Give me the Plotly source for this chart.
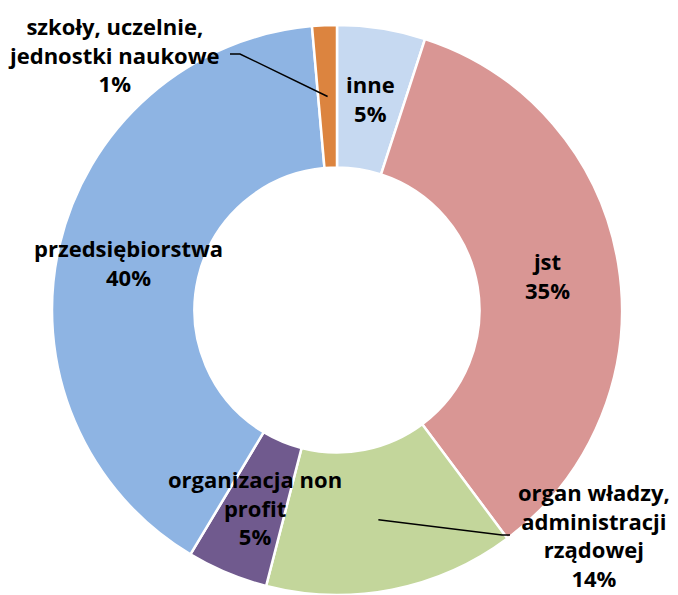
import numpy as np
import plotly.graph_objects as go

# data (clockwise from 12 o'clock)
categories = ["inne", "jst", "organ władzy,<br>administracji<br>rządowej",
              "organizacja non<br>profit", "przedsiębiorstwa",
              "szkoły, uczelnie,<br>jednostki naukowe"]
values = [5.0, 34.8, 14.2, 4.6, 40.0, 1.4]
pct_labels = ["5%", "35%", "14%", "5%", "40%", "1%"]
colors = ["#c6d9f1", "#d99694", "#c3d69b", "#705a8e", "#8eb4e3", "#dc843f"]

W, H = 678, 595
OFF = 8                              # page body margin in the browser
cx, cy, R = 337 - OFF, 310 - OFF, 285  # donut centre / radius in pixels

fig = go.Figure(go.Pie(
    labels=categories,
    values=values,
    hole=0.5,
    sort=False,
    direction="clockwise",
    rotation=0,
    marker=dict(colors=colors, line=dict(color="white", width=2.5)),
    textinfo="none",
    hoverinfo="label+percent",
    showlegend=False,
    domain=dict(x=[(cx - R) / W, (cx + R) / W], y=[(H - cy - R) / H, (H - cy + R) / H]),
))

# label anchors at slice mid-angle, in the middle of the ring
vals = np.array(values, dtype=float)
ends = np.cumsum(vals) / vals.sum() * 360
mids = np.radians(ends - vals / vals.sum() * 180)
rr = 0.75 * R
ax_px = cx + rr * np.sin(mids)
ay_px = cy - rr * np.cos(mids)

# labels moved outside with leader lines: label x,y, line end x, elbow x, line y
moved = {2: (594, 535, 510, 502, 535), 5: (114, 55, 230, 240, 54)}

def px(x, y):
    return x / W, 1 - y / H

annotations = []
shapes = []
for i, (lab, pct) in enumerate(zip(categories, pct_labels)):
    if i in moved:
        lx, ly, ex, bx, ey = [v - OFF for v in moved[i]]
        p0 = px(ax_px[i], ay_px[i])
        p1 = px(bx, ey)
        p2 = px(ex, ey)
        shapes.append(dict(type="path", xref="paper", yref="paper",
                           path=f"M {p0[0]},{p0[1]} L {p1[0]},{p1[1]} L {p2[0]},{p2[1]}",
                           line=dict(color="black", width=1.5)))
    else:
        lx, ly = ax_px[i], ay_px[i]
    x, y = px(lx, ly)
    annotations.append(dict(x=x, y=y, xref="paper", yref="paper",
                            text=f"<b>{lab}<br>{pct}</b>", showarrow=False,
                            xanchor="center", yanchor="middle", align="center",
                            font=dict(family="Open Sans", size=22, color="black")))

fig.update_layout(
    width=W, height=H,
    margin=dict(l=0, r=0, t=0, b=0),
    paper_bgcolor="white",
    annotations=annotations,
    shapes=shapes,
)

fig.write_html("out.html")
